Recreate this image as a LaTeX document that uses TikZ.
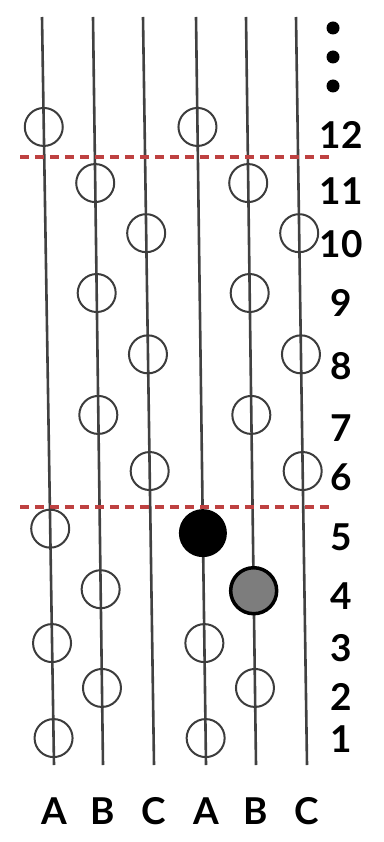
\documentclass[tikz,border=0pt]{standalone}
\usepackage{fontspec}
\setmainfont{Lato}
\usetikzlibrary{calc}
\definecolor{stringgray}{RGB}{65, 65, 65}
\definecolor{ringgray}{RGB}{60, 60, 60}
\definecolor{cutred}{RGB}{190, 65, 65}
\definecolor{stonegray}{RGB}{125, 125, 125}

\begin{document}
\begin{tikzpicture}[x=1pt, y=-1pt,
  every node/.style={font=\fontsize{37}{40}\selectfont\bfseries},
  string/.style={stringgray, line width=2.6pt},
  ring/.style={circle, draw=ringgray, line width=2pt, minimum size=38pt, inner sep=0pt},
  blackstone/.style={circle, fill=black, minimum size=48pt, inner sep=0pt},
  graystone/.style={circle, fill=stonegray, draw=black, line width=3.5pt, minimum size=46pt, inner sep=0pt},
  cutline/.style={cutred, line width=3.5pt, dash pattern=on 9pt off 6pt},
  dot/.style={circle, fill=black, minimum size=13pt, inner sep=0pt}]
\useasboundingbox (0,0) rectangle (383,842);

% ── Strings and column letters ──────────────────────────────────
\foreach \col/\letter/\xt/\xb in {a1/A/42/54, b1/B/93/103, c1/C/143/154,
                                  a2/A/196/206, b2/B/246/256, c2/C/296/307} {
  \coordinate (\col-top) at (\xt,17);
  \coordinate (\col-bot) at (\xb,765);
  \draw[string] (\col-top) -- (\col-bot);
  \node (\col-label) at (\xb,811) {\letter};
}

% ── Cut lines ───────────────────────────────────────────────────
\coordinate (cut12-w) at (20,157);
\coordinate (cut12-e) at (330,157);
\coordinate (cut5-w) at (20,507);
\coordinate (cut5-e) at (330,507);
\draw[cutline] (cut12-w) -- (cut12-e);
\draw[cutline] (cut5-w) -- (cut5-e);

% ── Empty rings ─────────────────────────────────────────────────
\foreach \col/\row/\t in {a1/12/0.147, a1/5/0.684, a1/3/0.837, a1/1/0.964,
                          b1/11/0.222, b1/9/0.369, b1/7/0.532, b1/4/0.765, b1/2/0.897,
                          c1/10/0.289, c1/8/0.451, c1/6/0.607,
                          a2/12/0.147, a2/3/0.837, a2/1/0.964,
                          b2/11/0.222, b2/9/0.369, b2/7/0.532, b2/2/0.897,
                          c2/10/0.289, c2/8/0.451, c2/6/0.607}
  \node[ring] (\col-\row) at ($(\col-top)!\t!(\col-bot)$) {};

% ── Stones ──────────────────────────────────────────────────────
\node[blackstone] (a2-5) at ($(a2-top)!0.69!(a2-bot)$) {};
\node[graystone] (b2-4) at ($(b2-top)!0.767!(b2-bot)$) {};

% ── Row numbers ─────────────────────────────────────────────────
\foreach \row/\y in {12/135, 11/191, 10/244, 9/303, 8/366, 7/428,
                     6/477, 5/537, 4/596, 3/648, 2/697, 1/739}
  \node (row-\row) at (341,\y) {\row};

\foreach \i/\y in {1/28, 2/57, 3/86}
  \node[dot] (dot-\i) at (333,\y) {};

\end{tikzpicture}
\end{document}
